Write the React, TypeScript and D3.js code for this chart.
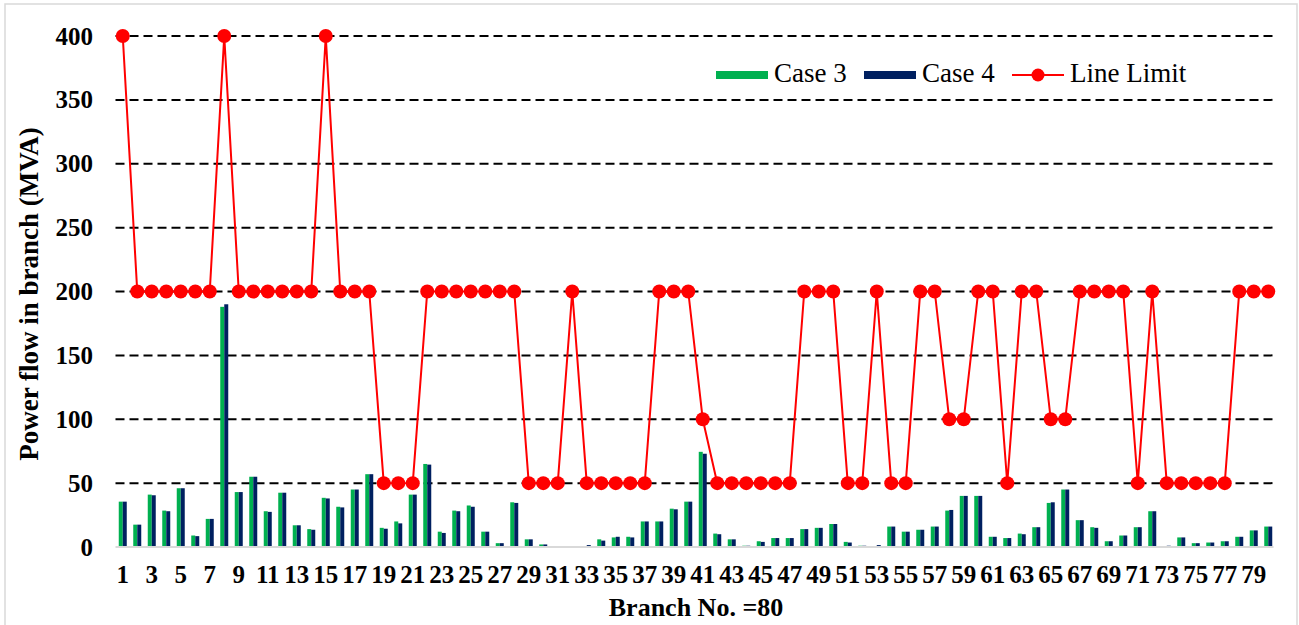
import React from "react";
import * as d3 from "d3";

const branches: number[] = Array.from({ length: 80 }, (_, i) => i + 1);

const case3: number[] = [
  35.5, 17.5, 41, 28.5, 46, 9, 22, 188, 43, 55,
  28, 42.5, 17, 14, 38.5, 31.5, 45, 57, 15, 20,
  41, 65, 12, 28.5, 32.5, 12, 3, 35, 6, 2,
  0, 0, 0.5, 6, 7.5, 8, 20, 20, 30, 35.5,
  74.5, 10.5, 6, 1, 4.5, 7, 7, 14, 15, 18,
  4, 1, 0.5, 16, 12, 13.5, 16, 28.5, 40, 40,
  8, 7, 10.5, 15.5, 34.5, 45, 21, 15.5, 4.5, 9,
  15.5, 28, 0.5, 7.5, 3, 3.5, 4.5, 8, 13, 16,
];

const case4: number[] = [
  35.5, 17.5, 40.5, 28, 46, 8.5, 22, 190, 43, 55,
  27.5, 42.5, 17, 13.5, 38, 31, 45, 57, 14.3, 18.5,
  41, 64.5, 11, 28, 31.5, 12, 3, 34.5, 6, 2,
  0, 0, 1.5, 5, 8, 7.5, 20, 20, 29.5, 35.5,
  73, 10, 6, 1, 4, 7, 7, 14, 15, 18,
  3.5, 1, 1.5, 16, 12, 13.5, 16, 29, 40, 40,
  8, 7, 10, 15.5, 35, 45, 21, 15, 4.5, 9,
  15.5, 28, 1, 7.5, 3, 3.5, 4.5, 8, 13, 16,
];

const lineLimit: number[] = [
  400, 200, 200, 200, 200, 200, 200, 400, 200, 200,
  200, 200, 200, 200, 400, 200, 200, 200, 50, 50,
  50, 200, 200, 200, 200, 200, 200, 200, 50, 50,
  50, 200, 50, 50, 50, 50, 50, 200, 200, 200,
  100, 50, 50, 50, 50, 50, 50, 200, 200, 200,
  50, 50, 200, 50, 50, 200, 200, 100, 100, 200,
  200, 50, 200, 200, 100, 100, 200, 200, 200, 200,
  50, 200, 50, 50, 50, 50, 50, 200, 200, 200,
];

const yTicks: number[] = [0, 50, 100, 150, 200, 250, 300, 350, 400];
const xTickLabels: number[] = branches.filter((b) => b % 2 === 1);

const W = 1299;
const H = 625;
const FONT = "'Liberation Serif', 'Times New Roman', serif";

export default function App() {
  const x = d3
    .scaleBand<number>()
    .domain(branches)
    .range([115.5, 1275.5])
    .padding(0);
  const y = d3.scaleLinear().domain([0, 400]).range([547, 36]);
  const cx = (b: number) => (x(b) as number) + x.bandwidth() / 2;
  const barW = 4;

  const line = d3
    .line<number>()
    .x((_, i) => cx(branches[i]))
    .y((d) => y(d));

  return (
    <svg
      width={W}
      height={H}
      style={{ position: "absolute", left: 0, top: 0, background: "#fff", fontFamily: FONT }}
    >
      <rect x={5} y={4} width={1292} height={640} fill="#fff" stroke="#d9d9d9" strokeWidth={1.5} />

      {/* gridlines */}
      {yTicks
        .filter((t) => t > 0)
        .map((t) => (
          <line
            key={"g" + t}
            x1={115.5}
            x2={1275.5}
            y1={y(t)}
            y2={y(t)}
            stroke="#000"
            strokeWidth={2}
            strokeDasharray="9,5"
          />
        ))}

      {/* bars */}
      {branches.map((b, i) => (
        <g key={"b" + b}>
          <rect
            x={cx(b) - barW}
            y={y(case3[i])}
            width={barW}
            height={y(0) - y(case3[i])}
            fill="#00B050"
          />
          <rect
            x={cx(b)}
            y={y(case4[i])}
            width={barW}
            height={y(0) - y(case4[i])}
            fill="#002060"
          />
        </g>
      ))}

      {/* baseline */}
      <line x1={115.5} x2={1273.5} y1={y(0)} y2={y(0)} stroke="#d9d9d9" strokeWidth={2} />

      {/* line limit */}
      <path d={line(lineLimit) || ""} fill="none" stroke="#ff0000" strokeWidth={2} />
      {lineLimit.map((v, i) => (
        <circle key={"c" + i} cx={cx(branches[i])} cy={y(v)} r={7} fill="#ff0000" />
      ))}

      {/* y ticks */}
      {yTicks.map((t) => (
        <text
          key={"yt" + t}
          x={93}
          y={y(t)}
          textAnchor="end"
          dominantBaseline="central"
          fontSize={25}
          fontWeight="bold"
          fill="#000"
          fontFamily={FONT}
        >
          {t}
        </text>
      ))}

      {/* x ticks */}
      {xTickLabels.map((b) => (
        <text
          key={"xt" + b}
          x={cx(b)}
          y={583}
          textAnchor="middle"
          fontSize={25}
          fontWeight="bold"
          fill="#000"
          fontFamily={FONT}
        >
          {b}
        </text>
      ))}

      {/* axis titles */}
      <text
        x={696}
        y={616}
        textAnchor="middle"
        fontSize={26}
        fontWeight="bold"
        fill="#000"
        fontFamily={FONT}
      >
        Branch No. =80
      </text>
      <text
        transform={`translate(29,294) rotate(-90)`}
        textAnchor="middle"
        dominantBaseline="central"
        fontSize={27}
        fontWeight="bold"
        fill="#000"
        fontFamily={FONT}
      >
        Power flow in branch (MVA)
      </text>

      {/* legend */}
      <rect x={716} y={71} width={52} height={8} fill="#00B050" />
      <text x={774} y={82} fontSize={27} fill="#000" fontFamily={FONT}>
        Case 3
      </text>
      <rect x={864} y={71} width={52} height={8} fill="#002060" />
      <text x={922} y={82} fontSize={27} fill="#000" fontFamily={FONT}>
        Case 4
      </text>
      <line x1={1012} x2={1064} y1={75} y2={75} stroke="#ff0000" strokeWidth={2} />
      <circle cx={1038} cy={75} r={6.5} fill="#ff0000" />
      <text x={1070} y={82} fontSize={27} fill="#000" fontFamily={FONT}>
        Line Limit
      </text>
    </svg>
  );
}
